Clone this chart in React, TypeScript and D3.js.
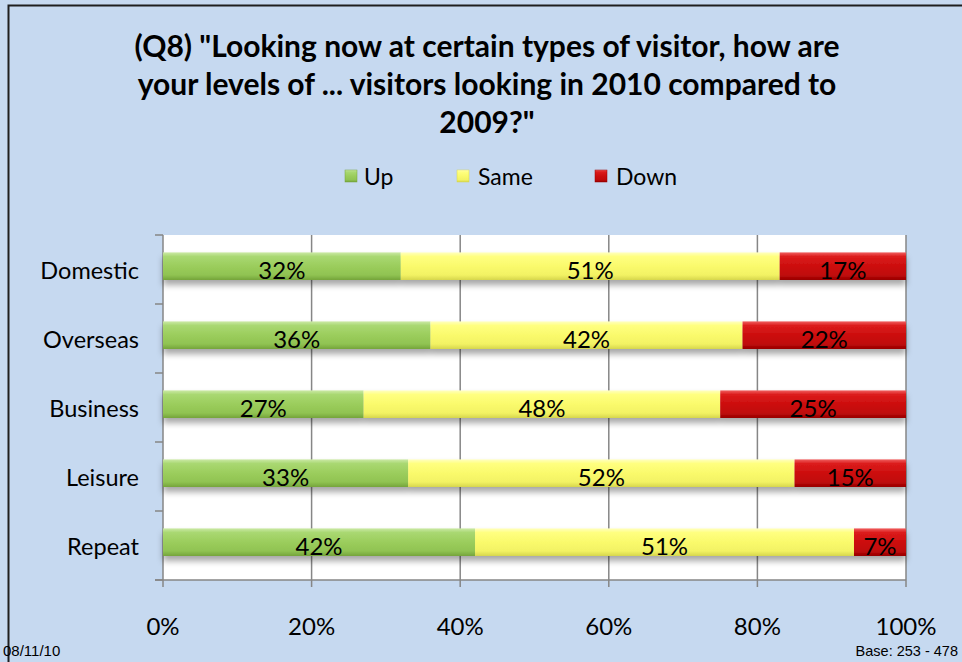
import React from "react";
import * as d3 from "d3";

const categories = ["Domestic", "Overseas", "Business", "Leisure", "Repeat"];
const seriesNames = ["Up", "Same", "Down"];
const upValues = [32, 36, 27, 33, 42];
const sameValues = [51, 42, 48, 52, 51];
const downValues = [17, 22, 25, 15, 7];
const xTicks = [0, 20, 40, 60, 80, 100];
const titleLines = [
  '(Q8) "Looking now at certain types of visitor, how are',
  "your levels of ... visitors looking in 2010 compared to",
  '2009?"',
];
const footerLeft = "08/11/10";
const footerRight = "Base: 253 - 478";

const W = 962;
const H = 662;
const plot = { left: 163, right: 906, top: 235, bottom: 580 };

const palette: Record<string, { top: string; hi: string; mid: string; low: string; bottom: string }> = {
  Up: { top: "#cbe9a6", hi: "#a9d872", mid: "#9bcd5c", low: "#90c352", bottom: "#74a43a" },
  Same: { top: "#ffffc0", hi: "#ffff80", mid: "#fafa6c", low: "#f2f264", bottom: "#d6d64c" },
  Down: { top: "#f06060", hi: "#dc1c1c", mid: "#cc0e0e", low: "#c00a0a", bottom: "#960000" },
};

export default function App() {
  const rows = categories.map((c, i) => ({
    category: c,
    Up: upValues[i],
    Same: sameValues[i],
    Down: downValues[i],
  }));
  const stacked = d3.stack<any>().keys(seriesNames)(rows);

  const x = d3.scaleLinear().domain([0, 100]).range([plot.left, plot.right]);
  const yCat = d3.scaleBand<string>().domain(categories).range([plot.top, plot.bottom]).padding(0);
  const yBar = d3
    .scaleBand<string>()
    .domain(categories)
    .range([plot.top, plot.bottom])
    .paddingInner(0.6)
    .paddingOuter(0.3)
    .align(0.42);

  const boundaries = categories.map((c) => yCat(c) as number).concat([plot.bottom]);
  const labelFont = "Lato, 'Noto Sans', sans-serif";

  const legendItems = [
    { name: "Up", sx: 345, tx: 364 },
    { name: "Same", sx: 457, tx: 478 },
    { name: "Down", sx: 595, tx: 616 },
  ];

  return (
    <svg
      width={W}
      height={H}
      viewBox={`0 0 ${W} ${H}`}
      style={{ position: "absolute", left: 0, top: 0, display: "block" }}
    >
      <defs>
        {seriesNames.map((s) => (
          <linearGradient key={s} id={`grad-${s}`} x1="0" y1="0" x2="0" y2="1">
            <stop offset="0" stopColor={palette[s].top} />
            <stop offset="0.15" stopColor={palette[s].hi} />
            <stop offset="0.5" stopColor={palette[s].mid} />
            <stop offset="0.82" stopColor={palette[s].low} />
            <stop offset="1" stopColor={palette[s].bottom} />
          </linearGradient>
        ))}
        <filter id="shadow" x="-5%" y="-30%" width="110%" height="180%">
          <feDropShadow dx="0" dy="5" stdDeviation="3" floodColor="#000" floodOpacity="0.35" />
        </filter>
      </defs>

      <rect x={0} y={0} width={W} height={H} fill="#c6d9f0" />
      <path d={`M8.5,${H} V5.5 H${W}`} fill="none" stroke="#1e1e1e" strokeWidth={2} />

      {titleLines.map((t, i) => (
        <text
          key={i}
          x={487}
          y={57 + i * 38}
          textAnchor="middle"
          fontFamily={labelFont}
          fontWeight="bold"
          fontSize={30}
          fill="#000"
        >
          {t}
        </text>
      ))}

      {legendItems.map((l) => (
        <g key={l.name}>
          <rect x={l.sx} y={170} width={12} height={12} fill={`url(#grad-${l.name})`} stroke={palette[l.name].bottom} strokeWidth={0.5} />
          <text x={l.tx} y={185} fontFamily={labelFont} fontSize={23} fill="#000">
            {l.name}
          </text>
        </g>
      ))}

      <rect x={plot.left} y={plot.top} width={plot.right - plot.left} height={plot.bottom - plot.top} fill="#ffffff" />

      {xTicks.map((t) => (
        <line key={t} x1={x(t)} x2={x(t)} y1={plot.top} y2={plot.bottom + 7} stroke="#868686" strokeWidth={1.5} />
      ))}
      <line x1={plot.left - 8} x2={plot.right} y1={plot.bottom} y2={plot.bottom} stroke="#868686" strokeWidth={1.5} />
      {boundaries.map((b, i) => (
        <line key={i} x1={plot.left - 8} x2={plot.left} y1={b} y2={b} stroke="#868686" strokeWidth={1.5} />
      ))}

      <g filter="url(#shadow)">
        {stacked.map((layer) =>
          layer.map((d, i) => (
            <rect
              key={layer.key + i}
              x={x(d[0])}
              y={yBar(categories[i])}
              width={x(d[1]) - x(d[0])}
              height={yBar.bandwidth()}
              fill={`url(#grad-${layer.key})`}
            />
          ))
        )}
      </g>

      {stacked.map((layer) =>
        layer.map((d, i) => (
          <text
            key={"l" + layer.key + i}
            x={(x(d[0]) + x(d[1])) / 2}
            y={(yCat(categories[i]) as number) + yCat.bandwidth() / 2 + 9}
            textAnchor="middle"
            fontFamily={labelFont}
            fontSize={24}
            fill="#000"
          >
            {`${d[1] - d[0]}%`}
          </text>
        ))
      )}

      {categories.map((c) => (
        <text
          key={c}
          x={139}
          y={(yCat(c) as number) + yCat.bandwidth() / 2 + 9}
          textAnchor="end"
          fontFamily={labelFont}
          fontSize={23.5}
          fill="#000"
        >
          {c}
        </text>
      ))}

      {xTicks.map((t) => (
        <text key={"t" + t} x={x(t)} y={635} textAnchor="middle" fontFamily={labelFont} fontSize={24} fill="#000">
          {`${t}%`}
        </text>
      ))}

      <text x={3} y={656} fontFamily="'Liberation Sans', Arial, sans-serif" fontSize={15} fill="#000">
        {footerLeft}
      </text>
      <text x={958} y={656} textAnchor="end" fontFamily="'Liberation Sans', Arial, sans-serif" fontSize={14.5} fill="#000">
        {footerRight}
      </text>
    </svg>
  );
}
